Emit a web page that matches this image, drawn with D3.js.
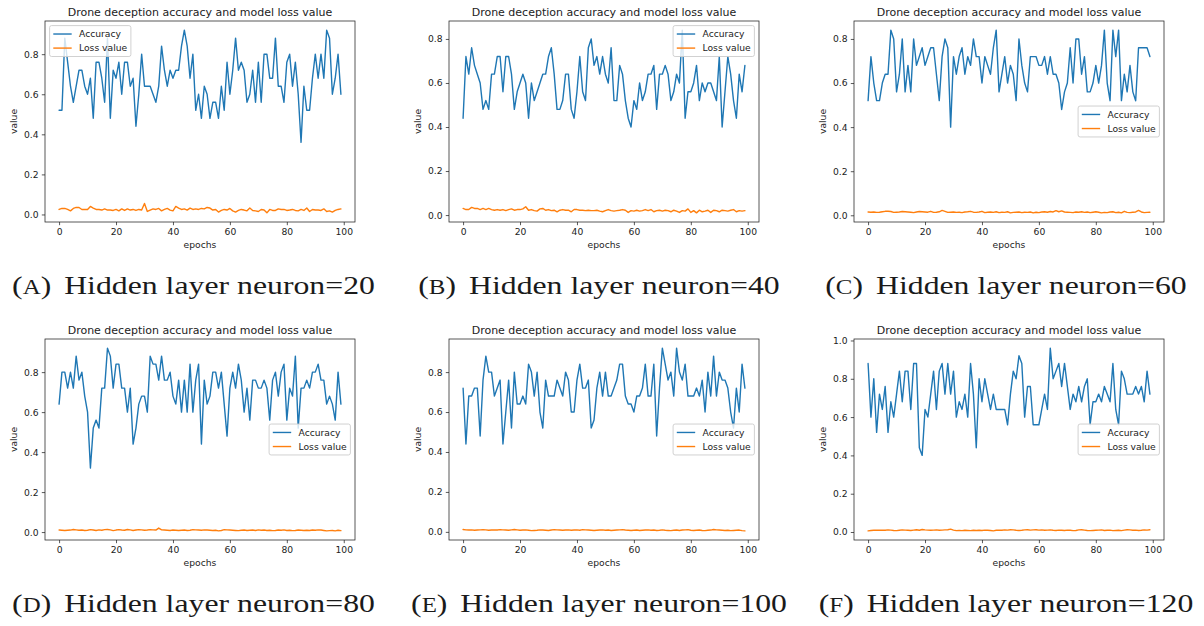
<!DOCTYPE html>
<html>
<head>
<meta charset="utf-8">
<script src="https://cdn.jsdelivr.net/npm/d3@7"></script>
<style>
  body { margin: 0; background: #fff; }
  svg { display: block; }
</style>
</head>
<body>
<svg id="chart" width="1204" height="626"></svg>
<script>
// epochs 0..99
const epochs = d3.range(100);

const accA = [
  0.52,0.52,0.88,0.76,0.64,0.56,0.64,0.72,0.72,0.64,
  0.60,0.68,0.48,0.76,0.76,0.68,0.56,0.88,0.48,0.72,
  0.68,0.76,0.60,0.76,0.76,0.64,0.68,0.44,0.60,0.80,
  0.64,0.64,0.64,0.60,0.56,0.64,0.84,0.72,0.64,0.72,
  0.68,0.72,0.72,0.84,0.92,0.84,0.68,0.80,0.52,0.60,
  0.48,0.64,0.60,0.48,0.56,0.56,0.48,0.64,0.52,0.76,
  0.60,0.72,0.88,0.72,0.76,0.72,0.56,0.60,0.72,0.56,
  0.76,0.56,0.80,0.80,0.68,0.68,0.88,0.64,0.64,0.56,
  0.76,0.80,0.64,0.76,0.60,0.36,0.64,0.52,0.52,0.68,
  0.80,0.68,0.80,0.68,0.92,0.88,0.60,0.68,0.80,0.60
];
const lossA = [
  0.025,0.03,0.03,0.025,0.018,0.03,0.035,0.035,0.025,0.025,
  0.025,0.04,0.032,0.025,0.025,0.022,0.028,0.022,0.022,0.02,
  0.025,0.018,0.028,0.02,0.028,0.022,0.025,0.02,0.025,0.022,
  0.055,0.015,0.022,0.028,0.025,0.03,0.018,0.025,0.03,0.022,
  0.018,0.04,0.032,0.025,0.028,0.022,0.032,0.025,0.028,0.025,
  0.03,0.028,0.035,0.032,0.022,0.025,0.012,0.02,0.025,0.022,
  0.03,0.018,0.012,0.02,0.025,0.022,0.018,0.032,0.02,0.018,
  0.015,0.025,0.022,0.008,0.025,0.02,0.02,0.028,0.025,0.025,
  0.02,0.022,0.025,0.02,0.018,0.025,0.02,0.032,0.015,0.025,
  0.022,0.022,0.02,0.028,0.015,0.018,0.012,0.02,0.025,0.028
];

const accB = [
  0.44,0.72,0.64,0.76,0.68,0.64,0.60,0.48,0.52,0.48,
  0.64,0.64,0.72,0.72,0.56,0.72,0.72,0.64,0.48,0.56,
  0.60,0.64,0.60,0.44,0.60,0.52,0.56,0.60,0.64,0.64,
  0.72,0.76,0.64,0.48,0.48,0.52,0.64,0.64,0.48,0.44,
  0.56,0.72,0.56,0.52,0.76,0.80,0.68,0.72,0.64,0.72,
  0.64,0.60,0.76,0.52,0.52,0.68,0.64,0.52,0.44,0.40,
  0.52,0.48,0.60,0.52,0.56,0.64,0.64,0.68,0.48,0.64,
  0.64,0.68,0.64,0.52,0.56,0.64,0.60,0.84,0.44,0.56,
  0.56,0.60,0.68,0.52,0.60,0.56,0.60,0.60,0.56,0.52,
  0.72,0.40,0.56,0.72,0.64,0.52,0.44,0.64,0.56,0.68
];
const lossB = [
  0.03,0.025,0.025,0.035,0.03,0.03,0.025,0.03,0.025,0.03,
  0.025,0.022,0.025,0.022,0.025,0.02,0.025,0.028,0.022,0.025,
  0.025,0.028,0.038,0.022,0.025,0.02,0.018,0.028,0.03,0.022,
  0.025,0.02,0.022,0.015,0.022,0.025,0.022,0.022,0.015,0.025,
  0.025,0.022,0.022,0.02,0.022,0.02,0.02,0.022,0.018,0.015,
  0.02,0.025,0.02,0.018,0.02,0.022,0.025,0.022,0.012,0.02,
  0.018,0.022,0.018,0.02,0.025,0.02,0.025,0.015,0.02,0.022,
  0.018,0.022,0.02,0.015,0.022,0.018,0.012,0.02,0.018,0.028,
  0.012,0.02,0.01,0.022,0.015,0.018,0.022,0.012,0.022,0.02,
  0.015,0.022,0.02,0.018,0.022,0.025,0.015,0.02,0.018,0.02
];

const accC = [
  0.52,0.72,0.60,0.52,0.52,0.60,0.64,0.64,0.84,0.80,
  0.56,0.64,0.80,0.56,0.68,0.56,0.80,0.68,0.72,0.76,
  0.68,0.72,0.76,0.76,0.64,0.52,0.72,0.80,0.76,0.40,
  0.72,0.64,0.72,0.76,0.64,0.72,0.68,0.80,0.72,0.72,
  0.60,0.72,0.68,0.64,0.76,0.84,0.56,0.64,0.72,0.60,
  0.68,0.64,0.52,0.80,0.68,0.60,0.56,0.72,0.72,0.72,
  0.68,0.68,0.72,0.64,0.72,0.64,0.64,0.60,0.48,0.56,
  0.60,0.76,0.60,0.80,0.80,0.64,0.72,0.56,0.56,0.60,
  0.68,0.60,0.68,0.84,0.60,0.52,0.84,0.72,0.84,0.52,
  0.64,0.56,0.68,0.56,0.52,0.76,0.76,0.76,0.76,0.72
];
const lossC = [
  0.015,0.014,0.015,0.013,0.014,0.016,0.018,0.018,0.017,0.013,
  0.014,0.015,0.017,0.016,0.015,0.014,0.012,0.015,0.017,0.016,
  0.015,0.014,0.018,0.013,0.014,0.016,0.022,0.018,0.013,0.014,
  0.015,0.013,0.014,0.012,0.015,0.016,0.018,0.014,0.013,0.015,
  0.018,0.012,0.014,0.015,0.013,0.016,0.012,0.014,0.013,0.016,
  0.011,0.013,0.014,0.015,0.012,0.014,0.013,0.015,0.011,0.014,
  0.012,0.015,0.016,0.014,0.017,0.015,0.021,0.016,0.02,0.015,
  0.014,0.013,0.012,0.015,0.014,0.016,0.013,0.015,0.012,0.014,
  0.016,0.014,0.011,0.013,0.012,0.015,0.016,0.012,0.014,0.011,
  0.018,0.013,0.012,0.014,0.015,0.022,0.015,0.012,0.013,0.014
];

const accD = [
  0.64,0.80,0.80,0.72,0.80,0.72,0.88,0.76,0.80,0.68,
  0.60,0.32,0.52,0.56,0.52,0.72,0.72,0.92,0.88,0.72,
  0.84,0.84,0.72,0.72,0.60,0.72,0.44,0.52,0.64,0.68,
  0.68,0.60,0.88,0.84,0.84,0.76,0.88,0.76,0.76,0.80,
  0.68,0.64,0.76,0.60,0.76,0.60,0.84,0.60,0.76,0.84,
  0.44,0.76,0.64,0.68,0.80,0.80,0.72,0.80,0.64,0.48,
  0.72,0.80,0.72,0.84,0.76,0.60,0.72,0.56,0.76,0.76,
  0.72,0.72,0.76,0.72,0.56,0.76,0.80,0.68,0.80,0.84,
  0.56,0.72,0.68,0.88,0.52,0.72,0.72,0.76,0.72,0.80,
  0.80,0.84,0.76,0.76,0.64,0.68,0.64,0.56,0.80,0.64
];
const lossD = [
  0.01,0.009,0.008,0.009,0.01,0.013,0.011,0.009,0.01,0.008,
  0.009,0.012,0.01,0.008,0.011,0.009,0.012,0.013,0.011,0.007,
  0.01,0.012,0.01,0.009,0.013,0.011,0.008,0.01,0.012,0.011,
  0.009,0.01,0.012,0.011,0.01,0.02,0.011,0.01,0.009,0.008,
  0.01,0.009,0.008,0.009,0.01,0.008,0.009,0.012,0.011,0.01,
  0.009,0.011,0.01,0.009,0.008,0.009,0.006,0.008,0.012,0.011,
  0.01,0.009,0.008,0.007,0.009,0.01,0.008,0.009,0.01,0.008,
  0.011,0.009,0.01,0.008,0.009,0.007,0.008,0.01,0.009,0.011,
  0.008,0.009,0.007,0.008,0.01,0.009,0.008,0.009,0.008,0.01,
  0.009,0.011,0.01,0.008,0.006,0.007,0.008,0.006,0.009,0.007
];

const accE = [
  0.72,0.44,0.68,0.68,0.72,0.72,0.48,0.76,0.88,0.80,
  0.80,0.68,0.72,0.76,0.44,0.60,0.76,0.52,0.80,0.64,
  0.64,0.68,0.64,0.84,0.80,0.68,0.80,0.60,0.52,0.76,
  0.68,0.68,0.68,0.76,0.72,0.68,0.80,0.76,0.60,0.60,
  0.76,0.84,0.72,0.72,0.76,0.52,0.56,0.72,0.80,0.68,
  0.80,0.68,0.68,0.72,0.76,0.84,0.84,0.68,0.64,0.64,
  0.60,0.68,0.68,0.72,0.84,0.68,0.68,0.84,0.48,0.72,
  0.92,0.84,0.76,0.80,0.68,0.92,0.80,0.76,0.84,0.68,
  0.68,0.68,0.72,0.68,0.76,0.60,0.80,0.68,0.88,0.68,
  0.80,0.76,0.76,0.72,0.60,0.52,0.72,0.60,0.84,0.72
];
const lossE = [
  0.012,0.01,0.009,0.01,0.008,0.009,0.01,0.011,0.01,0.008,
  0.009,0.01,0.009,0.011,0.01,0.009,0.008,0.01,0.012,0.01,
  0.008,0.009,0.01,0.008,0.006,0.007,0.008,0.01,0.009,0.008,
  0.007,0.009,0.011,0.01,0.009,0.008,0.009,0.01,0.008,0.009,
  0.01,0.008,0.011,0.01,0.009,0.008,0.007,0.008,0.009,0.01,
  0.008,0.009,0.007,0.008,0.009,0.01,0.011,0.009,0.008,0.007,
  0.008,0.009,0.007,0.008,0.009,0.01,0.008,0.009,0.007,0.008,
  0.01,0.008,0.007,0.006,0.008,0.009,0.007,0.009,0.01,0.011,
  0.008,0.007,0.008,0.009,0.007,0.006,0.008,0.009,0.012,0.01,
  0.009,0.008,0.007,0.008,0.006,0.007,0.008,0.009,0.006,0.005
];

const accF = [
  0.88,0.60,0.80,0.52,0.72,0.64,0.76,0.52,0.68,0.60,
  0.72,0.84,0.68,0.84,0.84,0.64,0.88,0.88,0.44,0.40,
  0.64,0.60,0.72,0.84,0.64,0.84,0.88,0.72,0.88,0.72,
  0.84,0.60,0.68,0.64,0.72,0.60,0.88,0.72,0.44,0.80,
  0.68,0.80,0.72,0.64,0.72,0.64,0.64,0.64,0.64,0.56,
  0.72,0.84,0.80,0.92,0.88,0.60,0.76,0.76,0.56,0.56,
  0.56,0.64,0.72,0.64,0.96,0.80,0.84,0.88,0.76,0.88,
  0.76,0.64,0.72,0.68,0.76,0.68,0.76,0.80,0.56,0.68,
  0.68,0.72,0.68,0.76,0.72,0.68,0.88,0.64,0.56,0.84,
  0.80,0.72,0.72,0.72,0.76,0.72,0.76,0.68,0.84,0.72
];
const lossF = [
  0.006,0.008,0.009,0.01,0.009,0.01,0.009,0.011,0.01,0.008,
  0.007,0.009,0.011,0.01,0.009,0.008,0.01,0.012,0.009,0.013,
  0.011,0.01,0.009,0.01,0.011,0.009,0.01,0.011,0.012,0.015,
  0.01,0.007,0.008,0.007,0.009,0.008,0.007,0.009,0.008,0.009,
  0.008,0.01,0.009,0.008,0.006,0.009,0.01,0.009,0.011,0.01,
  0.012,0.011,0.009,0.008,0.009,0.011,0.012,0.01,0.011,0.012,
  0.01,0.011,0.009,0.01,0.011,0.009,0.008,0.01,0.009,0.008,
  0.01,0.009,0.007,0.008,0.011,0.012,0.01,0.008,0.007,0.008,
  0.009,0.01,0.011,0.008,0.009,0.01,0.007,0.008,0.009,0.007,
  0.01,0.012,0.011,0.009,0.01,0.008,0.009,0.011,0.01,0.012
];

const letters = ['A', 'B', 'C', 'D', 'E', 'F'];
const neurons = [20, 40, 60, 80, 100, 120];
const legendLoc = ['upper left', 'upper right', 'center right', 'center right', 'center right', 'center right'];
const seriesNames = ['Accuracy', 'Loss value'];
const titleText = 'Drone deception accuracy and model loss value';

const panels = [
  { acc: accA, loss: lossA },
  { acc: accB, loss: lossB },
  { acc: accC, loss: lossC },
  { acc: accD, loss: lossD },
  { acc: accE, loss: lossE },
  { acc: accF, loss: lossF }
];
panels.forEach((p, k) => {
  if (p.acc.length !== 100 || p.loss.length !== 100)
    throw new Error('panel ' + letters[k] + ' lengths ' + p.acc.length + '/' + p.loss.length);
});

// layout
const svg = d3.select('#chart');
const colLeft = [45, 449, 854];
const rowTop = [21, 339];
const W = 310, H = 201;
const capCenter = [193.5, 599, 1006];
const capBase = [294, 612];
const fs = 9.2;            // tick / label / legend font size
const sans = 'DejaVu Sans, sans-serif';
const ink = '#222';
const colors = ['#1f77b4', '#ff7f0e'];

panels.forEach((p, k) => {
  const col = k % 3, row = Math.floor(k / 3);
  const g = svg.append('g').attr('transform', `translate(${colLeft[col]},${rowTop[row]})`);

  const x = d3.scaleLinear().domain([-4.95, 103.95]).range([0, W]);
  const all = p.acc.concat(p.loss);
  const lo = d3.min(all), hi = d3.max(all), m = (hi - lo) * 0.05;
  const y = d3.scaleLinear().domain([lo - m, hi + m]).range([H, 0]);

  const line = d3.line()
    .x((d, i) => x(epochs[i]))
    .y(d => y(d));

  [p.acc, p.loss].forEach((s, j) => {
    g.append('path')
      .datum(s)
      .attr('d', line)
      .attr('fill', 'none')
      .attr('stroke', colors[j])
      .attr('stroke-width', 1.4)
      .attr('stroke-linejoin', 'round')
      .attr('stroke-linecap', 'round');
  });

  // axes
  const xAxis = g.append('g')
    .attr('transform', `translate(0,${H})`)
    .call(d3.axisBottom(x).ticks(6).tickSize(3.2).tickPadding(3.2).tickSizeOuter(0));
  const yAxis = g.append('g')
    .call(d3.axisLeft(y).ticks(5).tickFormat(d3.format('.1f')).tickSize(3.2).tickPadding(3.2).tickSizeOuter(0));
  [xAxis, yAxis].forEach(a => {
    a.select('.domain').remove();
    a.selectAll('line').attr('stroke', ink).attr('stroke-width', 0.75);
    a.selectAll('text').attr('fill', ink).style('font-family', sans).style('font-size', fs + 'px');
  });

  // frame on top of the lines
  g.append('rect')
    .attr('width', W).attr('height', H)
    .attr('fill', 'none').attr('stroke', ink).attr('stroke-width', 0.75);

  g.append('text')
    .attr('x', W / 2).attr('y', -5.5)
    .attr('text-anchor', 'middle')
    .style('font-family', sans).style('font-size', '11px')
    .attr('fill', ink)
    .text(titleText);

  g.append('text')
    .attr('x', W / 2).attr('y', H + 26)
    .attr('text-anchor', 'middle')
    .style('font-family', sans).style('font-size', fs + 'px')
    .attr('fill', ink)
    .text('epochs');

  g.append('text')
    .attr('transform', `translate(-28,${H / 2}) rotate(-90)`)
    .attr('text-anchor', 'middle')
    .style('font-family', sans).style('font-size', fs + 'px')
    .attr('fill', ink)
    .text('value');

  // legend
  const lg = g.append('g');
  const labels = lg.selectAll('text.lab')
    .data(seriesNames).join('text')
    .attr('class', 'lab')
    .style('font-family', sans).style('font-size', fs + 'px')
    .attr('fill', ink)
    .text(d => d);
  const textW = d3.max(labels.nodes(), n => n.getComputedTextLength());
  const pad = 0.4 * fs, rowH = 1.03 * fs, gap = 0.5 * fs;
  const bw = 2 * pad + 2 * fs + 0.8 * fs + textW;
  const bh = 2 * pad + 2 * rowH + gap;
  const off = 0.5 * fs;
  const bx = legendLoc[k] === 'upper left' ? off : W - off - bw;
  const by = legendLoc[k] === 'center right' ? (H - bh) / 2 : off;
  lg.attr('transform', `translate(${bx},${by})`);
  lg.insert('rect', 'text')
    .attr('width', bw).attr('height', bh).attr('rx', 2)
    .attr('fill', '#fff').attr('fill-opacity', 0.8)
    .attr('stroke', '#cccccc').attr('stroke-width', 0.9);
  seriesNames.forEach((nm, j) => {
    const cy = pad + rowH / 2 + j * (rowH + gap);
    lg.append('line')
      .attr('x1', pad).attr('x2', pad + 2 * fs)
      .attr('y1', cy).attr('y2', cy)
      .attr('stroke', colors[j]).attr('stroke-width', 1.4);
  });
  labels
    .attr('x', pad + 2.8 * fs)
    .attr('y', (d, j) => pad + rowH / 2 + j * (rowH + gap))
    .attr('dy', '0.36em');
});

// sub-captions
const capFont = '"Liberation Serif", "Times New Roman", serif';
const caps = svg.selectAll('text.cap')
  .data(letters).join('text')
  .attr('class', 'cap')
  .attr('text-anchor', 'middle')
  .style('font-family', capFont)
  .style('font-size', '25.5px')
  .attr('fill', '#1a1a1a');
caps.each(function (d, k) {
  const t = d3.select(this);
  t.append('tspan').text('(');
  t.append('tspan').style('font-size', '20px').text(d);
  t.append('tspan').text(')');
  t.append('tspan').attr('dx', 4).text(' Hidden layer neuron=' + neurons[k]);
});
const sx = 363 / caps.node().getBBox().width;
caps.attr('transform', (d, k) => `translate(${capCenter[k % 3]},${capBase[Math.floor(k / 3)]}) scale(${sx},1)`);
</script>
</body>
</html>
